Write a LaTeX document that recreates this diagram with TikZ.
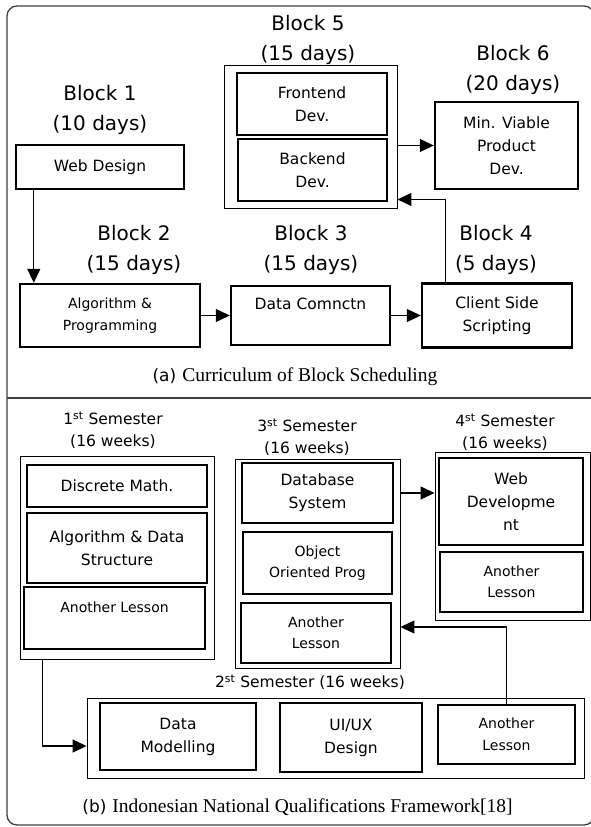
\documentclass[tikz,border=0pt]{standalone}
\usepackage{fontspec}
\setmainfont{Liberation Serif}
\newfontfamily\dejavu{DejaVu Sans}
\usetikzlibrary {arrows.meta}

\tikzset{
  frame/.style={draw=black!75, line width=1.3pt},
  group/.style={draw, line width=0.9pt, inner sep=0pt},
  lesson/.style={draw, line width=2.4pt, align=center, inner sep=2pt,
    font=\dejavu\fontsize{15.5}{23}\selectfont},
  small/.style={font=\dejavu\fontsize{14}{21.5}\selectfont},
  tag/.style={align=center, font=\dejavu\fontsize{20}{30}\selectfont},
  semtag/.style={align=center, font=\dejavu\fontsize{15.5}{22}\selectfont},
  caption/.style={font=\fontsize{19.5}{22}\selectfont},
  wh/.style 2 args={minimum width=#1pt, minimum height=#2pt},
  arr/.style={line width=1.1pt, arrows=-{Triangle[width=13pt,length=14pt]}}
}

\begin{document}
\begin{tikzpicture}[x=1pt,y=-1pt]

            \useasboundingbox (0,0) rectangle (591,827);
            % \draw [help lines,step=50] (0,0) grid (591,827);

            \draw[frame,rounded corners=10pt] (7,6) rectangle (594,825);
            \draw[frame] (7,398) -- (594,398);

            % (a) block scheduling
            \path   (100,167) node (web) [lesson,wh={168}{44}] {Web Design}
                    (110,315.5) node (algo) [lesson,small,wh={180}{63}] {Algorithm \&\\Programming}
                    (310.5,315.5) node (data) [lesson,wh={159}{59}] {Data Comnctn\\\mbox{}}
                    (497,315.5) node (client) [lesson,wh={150}{64}] {Client Side\\Scripting}

                    (310.5,136.5) node (blk5) [group,wh={173}{143}] {}
                    (312,104) node (front) [lesson,wh={150}{62}] {Frontend\\Dev.}
                    (312.5,170) node (back) [lesson,wh={149}{62}] {Backend\\Dev.}
                    (506.5,145.5) node (mvp) [lesson,wh={143}{87}] {Min. Viable\\Product\\Dev.};

            \path   (100,110) node (lb1) [tag] {Block 1\\(10 days)}
                    (134,250) node (lb2) [tag] {Block 2\\(15 days)}
                    (311,250) node (lb3) [tag] {Block 3\\(15 days)}
                    (496,250) node (lb4) [tag] {Block 4\\(5 days)}
                    (308,40) node (lb5) [tag] {Block 5\\(15 days)}
                    (513,70) node (lb6) [tag] {Block 6\\(20 days)};

            \path   (295,377) node (capa) [caption] {{\dejavu\fontsize{17}{20}\selectfont (a)}\hspace{6pt}Curriculum of Block Scheduling};

            \draw[arr] (web.south west) ++(19,0) coordinate (webout) -- (webout |- algo.north);
            \draw[arr] (node cs: name=algo, anchor=east) -- (node cs: name=data, anchor=west);
            \draw[arr] (node cs: name=data, anchor=east) -- (node cs: name=client, anchor=west);
            \path (blk5.south east) ++(0,-9) coordinate (blk5in);
            \draw[arr] (client.north west) ++(25,0) coordinate (clientout) |- (blk5in);
            \draw[arr] (blk5.east |- mvp.west) -- (node cs: name=mvp, anchor=west);

            % (b) qualifications framework
            \path   (117,557.5) node (sem1) [group,wh={194}{203}] {}
                    (117,486) node (dmath) [lesson,wh={180}{42}] {Discrete Math.}
                    (117,548) node (algds) [lesson,wh={180}{70}] {Algorithm \& Data\\Structure}
                    (114.5,618) node (oth1) [lesson,small,wh={181}{62}] {Another Lesson\\\mbox{}}

                    (317.5,563.5) node (sem3) [group,wh={165}{209}] {}
                    (317.5,493) node (dbs) [lesson,wh={151}{60}] {Database\\System}
                    (317.5,563) node (oop) [lesson,small,wh={149}{62}] {Object\\Oriented Prog}
                    (316,633) node (oth3) [lesson,small,wh={150}{60}] {Another\\Lesson}

                    (512.5,536) node (sem4) [group,wh={155}{168}] {}
                    (511,501.5) node (webdev) [lesson,wh={144}{87}] {Web\\Developme\\nt}
                    (511.5,582) node (oth4) [lesson,small,wh={143}{60}] {Another\\Lesson}

                    (335.5,738) node (sem2) [group,wh={497}{80}] {}
                    (178,736.5) node (dmod) [lesson,wh={156}{67}] {Data\\Modelling}
                    (351,737.5) node (uiux) [lesson,wh={142}{69}] {UI/UX\\Design}
                    (506.5,734.5) node (oth2) [lesson,small,wh={137}{59}] {Another\\Lesson};

            \path   (113,430) node (ls1) [semtag] {1\textsuperscript{st} Semester\\(16 weeks)}
                    (307,437) node (ls3) [semtag] {3\textsuperscript{st} Semester\\(16 weeks)}
                    (505,432) node (ls4) [semtag] {4\textsuperscript{st} Semester\\(16 weeks)}
                    (310,682) node (ls2) [semtag] {2\textsuperscript{st} Semester (16 weeks)};

            \path   (297.5,807) node (capb) [caption] {{\dejavu\fontsize{17}{20}\selectfont (b)}\hspace{6pt}Indonesian National Qualifications Framework[18]};

            \draw[arr] (dbs.east -| sem3.east) -- (dbs.east -| sem4.west);
            \path (sem2.west) ++(0,8) coordinate (sem2in);
            \draw[arr] (sem1.south west) ++(23,0) coordinate (sem1out) |- (sem2in);
            \path (sem3.east) ++(0,63.5) coordinate (sem3in);
            \draw[arr] (node cs: name=oth2, anchor=north) |- (sem3in);

\end{tikzpicture}
\end{document}
